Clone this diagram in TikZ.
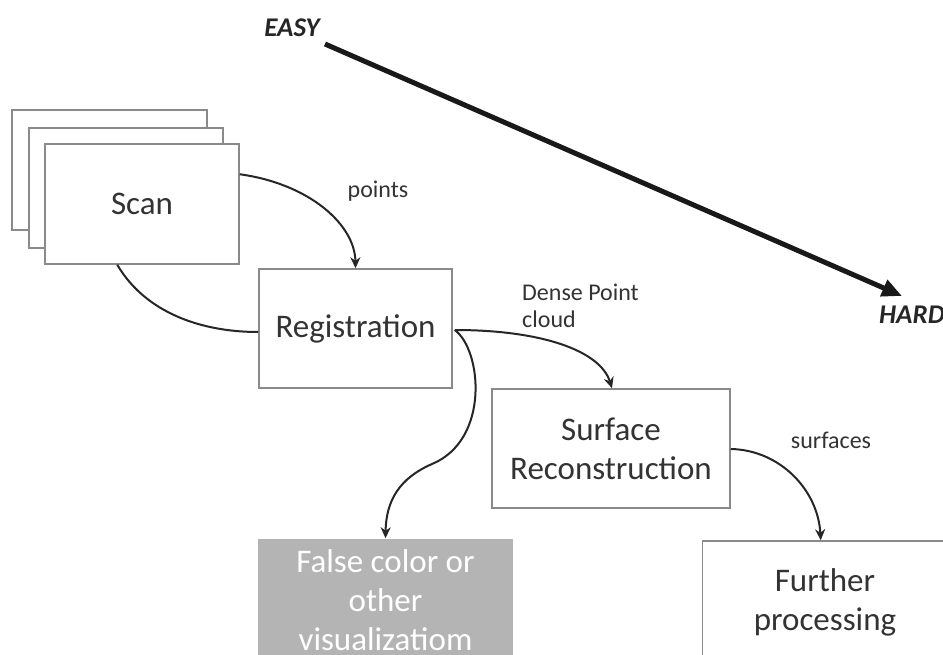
\documentclass[tikz,border=0pt]{standalone}
\usepackage{fontspec}
\setmainfont{Carlito}
\usetikzlibrary{arrows.meta,calc}
\definecolor{txt}{HTML}{333333}
\definecolor{edge}{HTML}{8A8A8A}
\definecolor{fc}{HTML}{B4B4B4}
\begin{document}
\begin{tikzpicture}[x=1pt,y=-1pt,
  box/.style={draw=edge,line width=1.5pt,fill=white,inner sep=0pt,text=txt,align=center,font=\fontsize{33}{39}\selectfont},
  lbl/.style={text=txt,font=\fontsize{24}{27}\selectfont,inner sep=0pt},
  hl/.style={text=black!85,font=\fontsize{27}{30}\selectfont\bfseries\itshape,inner sep=0pt},
  conn/.style={draw=black!85,line width=2pt},
  arr/.style={conn,-{Stealth[length=11pt,width=10pt]}}]
\useasboundingbox (0,0) rectangle (943,655);
\clip (0,0) rectangle (943,655);
\fill[white] (0,0) rectangle (943,655);
% scan stack
\node[box,minimum width=195pt,minimum height=120pt] (scanA) at (109.5,170) {};
\node[box,minimum width=194pt,minimum height=120pt] (scanB) at (126,188) {};
\node[box,minimum width=194pt,minimum height=120pt] (scan) at (142,204) {Scan};
\node[box,minimum width=193pt,minimum height=119pt] (reg) at (355.5,328.5) {Registration};
\node[box,minimum width=238pt,minimum height=119pt] (surf) at (611,448.5) {Surface\\Reconstruction};
\node[box,minimum width=245pt,minimum height=122pt] (fur) at (825,602) {Further\\processing};
\node[box,draw=none,fill=fc,text=white,minimum width=255pt,minimum height=122pt] (fcol) at (385.5,600) {False color or\\other\\visualizatiom};
% labels
\node[lbl] (lpts) at (378,191) {points};
\node[lbl,anchor=west,align=left,font=\fontsize{24}{27}\selectfont] (ldense) at (522,306) {Dense Point\\cloud};
\node[lbl] (lsurf) at (831,440) {surfaces};
\node[hl] (easy) at (292,28) {EASY};
\node[hl,anchor=east] (hard) at (945,315) {HARD};
% big arrow
\coordinate (bs) at (325,44);
\coordinate (be) at (902,296);
\draw[line width=5pt,draw=black!90,-{Triangle[length=20pt,width=17pt]}] (bs) -- (be);
% connectors
\coordinate (c1s) at ($(scan.north east)+(0,31)$);
\coordinate (c1e) at (reg.north);
\draw[arr] (c1s) .. controls (310,184) and (355,225) .. (c1e);
\coordinate (c2s) at ($(scan.south west)+(73,0)$);
\coordinate (c2e) at ($(reg.west)+(0,3.5)$);
\draw[conn] (c2s) .. controls (145,312) and (200,332) .. (c2e);
\coordinate (c3s) at ($(reg.east)+(2,1.5)$);
\coordinate (c3e) at ($(surf.north)+(1,0)$);
\draw[arr] (c3s) .. controls (540,330) and (600,350) .. (c3e);
\coordinate (c4m) at (432,464);
\coordinate (c4e) at (fcol.north);
\draw[conn] (c3s) .. controls (482,350) and (490,440) .. (c4m);
\draw[arr] (c4m) .. controls (400,478) and (386,500) .. (c4e);
\coordinate (c5s) at ($(surf.east)+(0,0.5)$);
\coordinate (c5e) at ($(fur.north west)+(119,0)$);
\draw[arr] (c5s) .. controls (780,450) and (818,490) .. (c5e);
\end{tikzpicture}
\end{document}
